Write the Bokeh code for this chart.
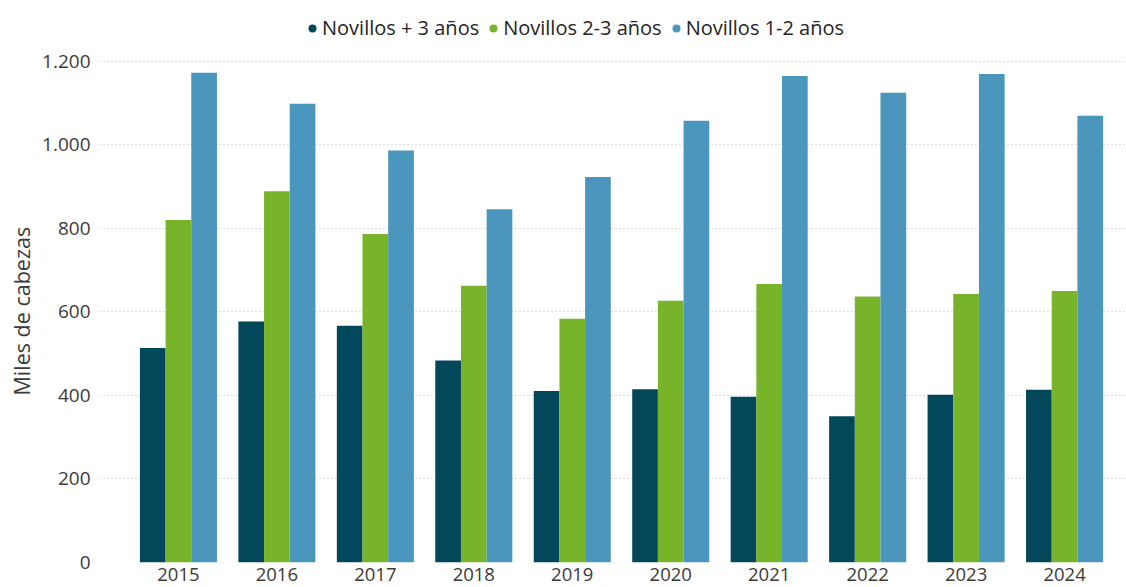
from bokeh.plotting import figure
from bokeh.models import ColumnDataSource, FixedTicker, Legend, LegendItem, Range1d, Title
from bokeh.transform import dodge
from bokeh.embed import file_html
from bokeh.resources import INLINE

years = ["2015", "2016", "2017", "2018", "2019", "2020", "2021", "2022", "2023", "2024"]
novillos_mas3 = [514, 577, 567, 484, 411, 415, 397, 350, 402, 414]
novillos_2_3 = [820, 889, 787, 663, 584, 627, 667, 637, 643, 650]
novillos_1_2 = [1173, 1099, 987, 846, 923, 1058, 1165, 1125, 1170, 1070]
series_names = ["Novillos + 3 años", "Novillos 2-3 años", "Novillos 1-2 años"]
colors = ["#03475A", "#78B42A", "#4A96BD"]
y_ticks = [0, 200, 400, 600, 800, 1000, 1200]
y_tick_labels = ["0", "200", "400", "600", "800", "1.000", "1.200"]
y_title = "Miles de cabezas"

FONT = "Open Sans"
idx = list(range(len(years)))
src = ColumnDataSource(dict(x=idx, a=novillos_mas3, b=novillos_2_3, c=novillos_1_2))

p = figure(width=1126, height=587, output_backend="svg", toolbar_location=None,
           x_range=Range1d(-0.8016, 9.629), y_range=Range1d(0, 1346),
           min_border_left=98, min_border_right=0, min_border_top=0, min_border_bottom=25)

bw = 0.2608
fields = ["a", "b", "c"]
offsets = [-bw, 0, bw]
for f, off, col in zip(fields, offsets, colors):
    p.vbar(x=dodge("x", off), top=f, width=bw, bottom=0, source=src,
           fill_color=col, line_color=None)

# legend proxies (points placed outside the visible range)
items = []
for name, col in zip(series_names, colors):
    r = p.scatter(x=[-5], y=[-100], marker="circle", size=9, fill_color=col, line_color=None)
    items.append(LegendItem(label=name, renderers=[r]))
legend = Legend(items=items, orientation="horizontal", location=(203, 521),
                glyph_width=20, glyph_height=20, label_standoff=0, spacing=4,
                padding=0, margin=0, border_line_color=None, background_fill_alpha=0,
                label_text_font=FONT, label_text_font_size="20px", label_text_color="#252423")
p.add_layout(legend, "center")

p.xaxis.ticker = FixedTicker(ticks=idx)
p.xaxis.major_label_overrides = {i: y for i, y in zip(idx, years)}
p.yaxis.ticker = FixedTicker(ticks=y_ticks)
p.yaxis.major_label_overrides = {t: l for t, l in zip(y_ticks, y_tick_labels)}

for ax in (p.xaxis, p.yaxis):
    ax.axis_line_color = None
    ax.major_tick_line_color = None
    ax.minor_tick_line_color = None
    ax.major_tick_out = 0
    ax.major_tick_in = 0
    ax.major_label_text_font = FONT
    ax.major_label_text_font_size = "19px"
    ax.major_label_text_color = "#3B3A39"
p.xaxis.major_label_text_font_size = "18.5px"
p.xaxis.major_label_standoff = 5
p.yaxis.major_label_standoff = 9

ytitle = Title(text=y_title, align="left", offset=167, standoff=8,
               text_font=FONT, text_font_size="21.5px", text_font_style="normal",
               text_color="#3B3A39")
p.add_layout(ytitle, "left")

p.xgrid.grid_line_color = None
p.ygrid.grid_line_color = "#BDBDBD"
p.ygrid.grid_line_dash = "1 3"
p.ygrid.grid_line_width = 1
p.outline_line_color = None
p.background_fill_color = "white"
p.border_fill_color = "white"

open("out.html", "w").write(file_html(p, INLINE))
